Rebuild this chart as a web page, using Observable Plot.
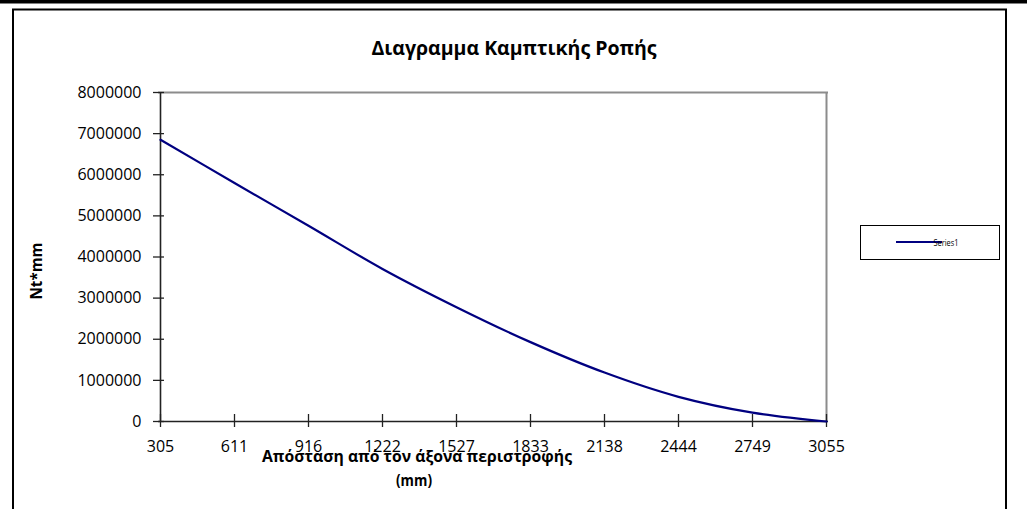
<!DOCTYPE html>
<html><head><meta charset="utf-8">
<script src="https://cdn.jsdelivr.net/npm/d3@7"></script>
<script src="https://cdn.jsdelivr.net/npm/@observablehq/plot@0.6"></script>
<style>body{margin:0;background:#fff} svg{display:block}</style>
</head><body><div id="chart"></div>
<script>
// Data
const distances = ["305","611","916","1222","1527","1833","2138","2444","2749","3055"];
const moments = [6850000, 5800000, 4760000, 3710000, 2780000, 1930000, 1190000, 600000, 215000, 0];
const yTicks = [0,1000000,2000000,3000000,4000000,5000000,6000000,7000000,8000000];
const titleText = "Διαγραμμα Καμπτικής Ροπής";
const xLabelLines = ["Απόσταση από τον άξονα περιστροφής", "(mm)"];
const yLabelText = "Nt*mm";
const seriesName = "Series1";

const data = distances.map((d, i) => ({d, m: moments[i]}));
const W = 1027, H = 509;
const font = "'Open Sans', sans-serif";

const plot = Plot.plot({
  width: W, height: H,
  marginLeft: 158, marginRight: 199, marginTop: 92, marginBottom: 88,
  style: {fontFamily: font, fontSize: "16px", color: "#000", background: "#fff", overflow: "visible"},
  x: {type: "point", domain: distances, padding: 0},
  y: {domain: [0, yTicks[yTicks.length - 1]]},
  marks: [
    Plot.ruleY([yTicks[yTicks.length - 1]], {stroke: "#8c8c8c", strokeWidth: 2}),
    Plot.ruleX([distances[distances.length - 1]], {stroke: "#8c8c8c", strokeWidth: 2}),
    Plot.axisY({ticks: yTicks, tickSize: 0, tickPadding: 17, tickFormat: d3.format("d"), label: null, fill: "#000"}),
    Plot.axisY({ticks: yTicks, tickSize: 11, dx: 6, tickFormat: () => "", label: null, stroke: "#222", strokeWidth: 1.3}),
    Plot.axisX({tickSize: 0, tickPadding: 19, label: null, fill: "#000"}),
    Plot.axisX({tickSize: 13, dy: -7, tickFormat: () => "", label: null, stroke: "#222", strokeWidth: 1.3}),
    Plot.ruleX([distances[0]], {stroke: "#222", strokeWidth: 1.6}),
    Plot.ruleY([0], {stroke: "#222", strokeWidth: 1.6}),
    Plot.line(data, {x: "d", y: "m", stroke: "#000080", strokeWidth: 2.2, curve: "catmull-rom"})
  ]
});
document.getElementById("chart").appendChild(plot);

const svg = d3.select(plot);
// outer chart frame
svg.append("rect").attr("x", 0).attr("y", 0).attr("width", W).attr("height", 3.5).attr("fill", "#000");
svg.append("path").attr("d", "M13,530V9.5H1006V530").attr("fill", "none").attr("stroke", "#000").attr("stroke-width", 2);

// title
svg.append("text").text(titleText)
  .attr("x", 514).attr("y", 54.5).attr("text-anchor", "middle")
  .attr("font-family", font).attr("font-weight", "bold").attr("font-size", 19)
  .attr("textLength", 285).attr("lengthAdjust", "spacingAndGlyphs");

// y label
svg.append("text").text(yLabelText)
  .attr("transform", "translate(42,271) rotate(-90)").attr("text-anchor", "middle")
  .attr("font-family", font).attr("font-weight", "bold").attr("font-size", 16)
  .attr("textLength", 57).attr("lengthAdjust", "spacingAndGlyphs");

// x label
svg.append("text").text(xLabelLines[0])
  .attr("x", 417).attr("y", 461.5).attr("text-anchor", "middle")
  .attr("font-family", font).attr("font-weight", "bold").attr("font-size", 16)
  .attr("textLength", 310).attr("lengthAdjust", "spacingAndGlyphs");
svg.append("text").text(xLabelLines[1])
  .attr("x", 414).attr("y", 486).attr("text-anchor", "middle")
  .attr("font-family", font).attr("font-weight", "bold").attr("font-size", 16)
  .attr("textLength", 36).attr("lengthAdjust", "spacingAndGlyphs");

// legend
svg.append("rect").attr("x", 860.5).attr("y", 225.5).attr("width", 139).attr("height", 34)
  .attr("fill", "#fff").attr("stroke", "#000").attr("stroke-width", 1);
svg.append("line").attr("x1", 896).attr("x2", 942).attr("y1", 242).attr("y2", 242)
  .attr("stroke", "#000080").attr("stroke-width", 2.2);
svg.append("text").text(seriesName)
  .attr("x", 946).attr("y", 245.5).attr("font-family", font).attr("font-size", 9)
  .attr("textLength", 25).attr("lengthAdjust", "spacingAndGlyphs");
</script>
</body></html>
